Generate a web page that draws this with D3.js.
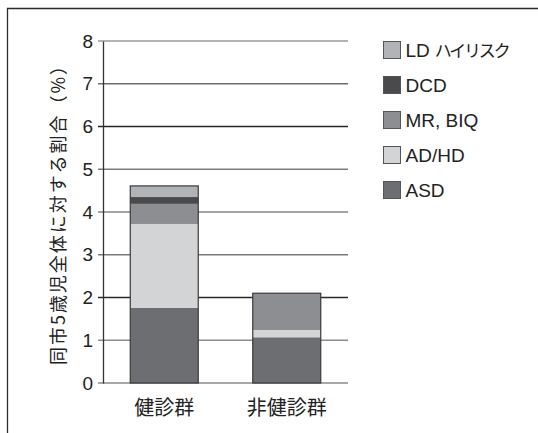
<!DOCTYPE html>
<html>
<head>
<meta charset="utf-8">
<script src="https://cdn.jsdelivr.net/npm/d3@7"></script>
<style>
  html, body { margin: 0; padding: 0; background: #fff; }
  svg { display: block; }
</style>
</head>
<body>
<svg id="chart" width="538" height="433"></svg>
<script>
// Groups on the x axis
const groups = ["健診群", "非健診群"];
// Stack order, bottom to top
const seriesNames = ["ASD", "AD/HD", "MR, BIQ", "DCD", "LD ハイリスク"];
// Share of all 5-year-olds in the city (%), per group
const asd  = [1.76, 1.07];
const adhd = [1.96, 0.17];
const mr   = [0.47, 0.86];
const dcd  = [0.16, 0.00];
const ld   = [0.26, 0.00];
const yTicks = [0, 1, 2, 3, 4, 5, 6, 7, 8];
const yTitle = "同市5歳児全体に対する割合（%）";

const colors = ["#6d6e72", "#d3d4d6", "#8d8e92", "#4a4a4d", "#b2b3b6"];
// printed rule tones, one per gridline from 0 to 8
const ruleTones = ["#8a8a8a", "#8c8c8c", "#2a2a2a", "#7a7a7a", "#858585", "#7c7c7c", "#262626", "#6e6e6e", "#9a9a9a"];

const rows = groups.map((g, i) => ({
  group: g,
  "ASD": asd[i], "AD/HD": adhd[i], "MR, BIQ": mr[i], "DCD": dcd[i], "LD ハイリスク": ld[i]
}));
const stacked = d3.stack().keys(seriesNames)(rows);

const svg = d3.select("#chart");
const latin = "'Liberation Sans', Arial, 'Noto Sans CJK JP', sans-serif";
const cjk = "'Noto Sans CJK JP', 'Liberation Sans', sans-serif";

const x = d3.scaleBand().domain(groups).range([103, 348]).paddingInner(0.445).paddingOuter(0.2225);
const y = d3.scaleLinear().domain([0, 8]).range([383, 41]);

// frame
svg.append("path")
  .attr("d", "M7.5,440 V8.5 H545")
  .attr("fill", "none").attr("stroke", "#2b2b2b").attr("stroke-width", 1.3);

// gridlines with tick marks
svg.append("g").selectAll("line").data(yTicks).join("line")
  .attr("x1", 98).attr("x2", 348)
  .attr("y1", d => y(d)).attr("y2", d => y(d))
  .attr("stroke", (d, i) => ruleTones[i]).attr("stroke-width", 1.5);

// y axis
const yAxis = d3.axisLeft(y).tickValues(yTicks).tickSize(0).tickPadding(10).tickFormat(d3.format("d"));
const gy = svg.append("g").attr("transform", "translate(103,0)").call(yAxis);
gy.select(".domain").attr("stroke", "#333").attr("stroke-width", 1.3);
gy.selectAll("text").attr("font-family", latin).attr("font-size", 19).attr("fill", "#222");

// stacked bars
const layer = svg.append("g");
stacked.forEach((s, si) => {
  layer.append("g").attr("fill", colors[si]).selectAll("rect").data(s).join("rect")
    .attr("x", d => x(d.data.group))
    .attr("width", x.bandwidth())
    .attr("y", d => y(d[1]))
    .attr("height", d => y(d[0]) - y(d[1]));
});
// bar outlines
const totals = rows.map(r => ({ group: r.group, total: d3.sum(seriesNames, k => r[k]) }));
svg.append("g").selectAll("rect").data(totals).join("rect")
  .attr("x", d => x(d.group))
  .attr("width", x.bandwidth())
  .attr("y", d => y(d.total))
  .attr("height", d => y(0) - y(d.total))
  .attr("fill", "none").attr("stroke", "#3a3a3a").attr("stroke-width", 1.2);

// x labels
const xAxis = d3.axisBottom(x).tickSize(0).tickPadding(0);
const gx = svg.append("g").attr("transform", "translate(0,383)").call(xAxis);
gx.select(".domain").remove();
gx.selectAll("text").attr("font-family", cjk).attr("font-size", 20).attr("fill", "#222")
  .attr("dy", 0).attr("y", 32);

// y title
svg.append("text")
  .attr("transform", "translate(57,211) rotate(-90)")
  .attr("text-anchor", "middle").attr("dominant-baseline", "central")
  .attr("font-family", cjk).attr("font-size", 18).attr("fill", "#222")
  .attr("textLength", 308).attr("lengthAdjust", "spacing")
  .text(yTitle);

// legend (top entry is the top of the stack)
const legendItems = seriesNames.map((n, i) => ({ name: n, color: colors[i] })).reverse();
const lg = svg.append("g").selectAll("g").data(legendItems).join("g")
  .attr("transform", (d, i) => `translate(383.5,${41.5 + i * 35})`);
lg.append("rect").attr("width", 17).attr("height", 17)
  .attr("fill", d => d.color).attr("stroke", "#555").attr("stroke-width", 1);
const lt = lg.append("text").attr("x", 22).attr("y", 15.5)
  .attr("font-family", latin).attr("font-size", 19).attr("fill", "#222");
lt.each(function (d) {
  const t = d3.select(this);
  const sp = d.name.indexOf(" ");
  if (sp > 0 && /[\u30a0-\u30ff]/.test(d.name)) {
    // Latin part, then the katakana set a little tighter
    t.append("tspan").text(d.name.slice(0, sp));
    t.append("tspan").attr("dx", 5).attr("font-family", cjk).attr("font-size", 17)
      .attr("letter-spacing", -2.2).text(d.name.slice(sp + 1));
  } else {
    t.text(d.name);
  }
});
</script>
</body>
</html>
